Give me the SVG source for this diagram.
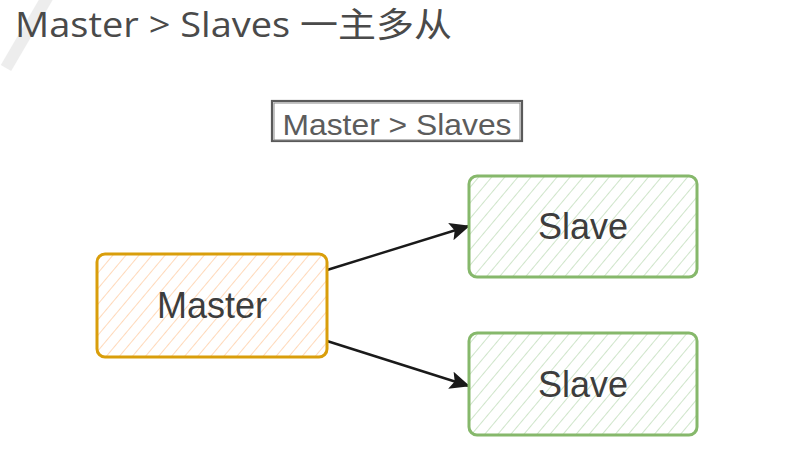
<svg xmlns="http://www.w3.org/2000/svg" width="795" height="472" viewBox="0 0 795 472">
<style>
.title{font-family:"Open Sans","Noto Sans CJK SC",sans-serif;font-size:34px;fill:#4a4a4a}
.lbl{font-family:"Liberation Sans",Arial,sans-serif;font-size:36px;fill:#3d3d3d;text-anchor:middle;dominant-baseline:central}
.conn{stroke:#1a1a1a;stroke-width:2.4;fill:none;marker-end:url(#ah)}
</style>
<defs>
<pattern id="hatchO" width="10" height="10" patternUnits="userSpaceOnUse" patternTransform="rotate(40)">
<line x1="0" y1="0" x2="0" y2="10" stroke="#ffcfa8" stroke-width="1.6"/>
</pattern>
<pattern id="hatchG" width="10" height="10" patternUnits="userSpaceOnUse" patternTransform="rotate(40)">
<line x1="0" y1="0" x2="0" y2="10" stroke="#c3dfbd" stroke-width="1.6"/>
</pattern>
<marker id="ah" markerWidth="20" markerHeight="18" refX="19" refY="9" orient="auto" markerUnits="userSpaceOnUse">
<path d="M0,0 L20,9 L0,18 L4,9 Z" fill="#1a1a1a"/>
</marker>
</defs>
<rect width="795" height="472" fill="#ffffff"/>
<line x1="48" y1="-4" x2="6" y2="68" stroke="#e2e2e2" stroke-width="12" opacity="0.6"/>
<text class="title" x="15" y="37" textLength="437" lengthAdjust="spacingAndGlyphs">Master &gt; Slaves 一主多从</text>
<g id="label">
<rect x="272" y="101" width="250" height="40" fill="#ffffff" stroke="#5a5a5a" stroke-width="2.2"/>
<rect x="274" y="103" width="246" height="37" fill="none" stroke="#8a8a8a" stroke-width="1"/>
<text x="397" y="124" font-family="Liberation Sans,Arial,sans-serif" font-size="30" fill="#5c5c5c" text-anchor="middle" dominant-baseline="central" textLength="229" lengthAdjust="spacingAndGlyphs">Master &gt; Slaves</text>
</g>
<g id="connectors">
<path class="conn" d="M327,270 L469,226"/>
<path class="conn" d="M327,341 L469,386"/>
</g>
<g id="master">
<rect x="97" y="254" width="230" height="103" rx="8" fill="url(#hatchO)" stroke="#d99e0b" stroke-width="3"/>
<text class="lbl" x="212" y="305">Master</text>
</g>
<g id="slave1">
<rect x="469" y="176" width="228" height="101" rx="8" fill="url(#hatchG)" stroke="#86b86b" stroke-width="3"/>
<text class="lbl" x="583" y="226">Slave</text>
</g>
<g id="slave2">
<rect x="469" y="333" width="228" height="102" rx="8" fill="url(#hatchG)" stroke="#86b86b" stroke-width="3"/>
<text class="lbl" x="583" y="384">Slave</text>
</g>
</svg>
